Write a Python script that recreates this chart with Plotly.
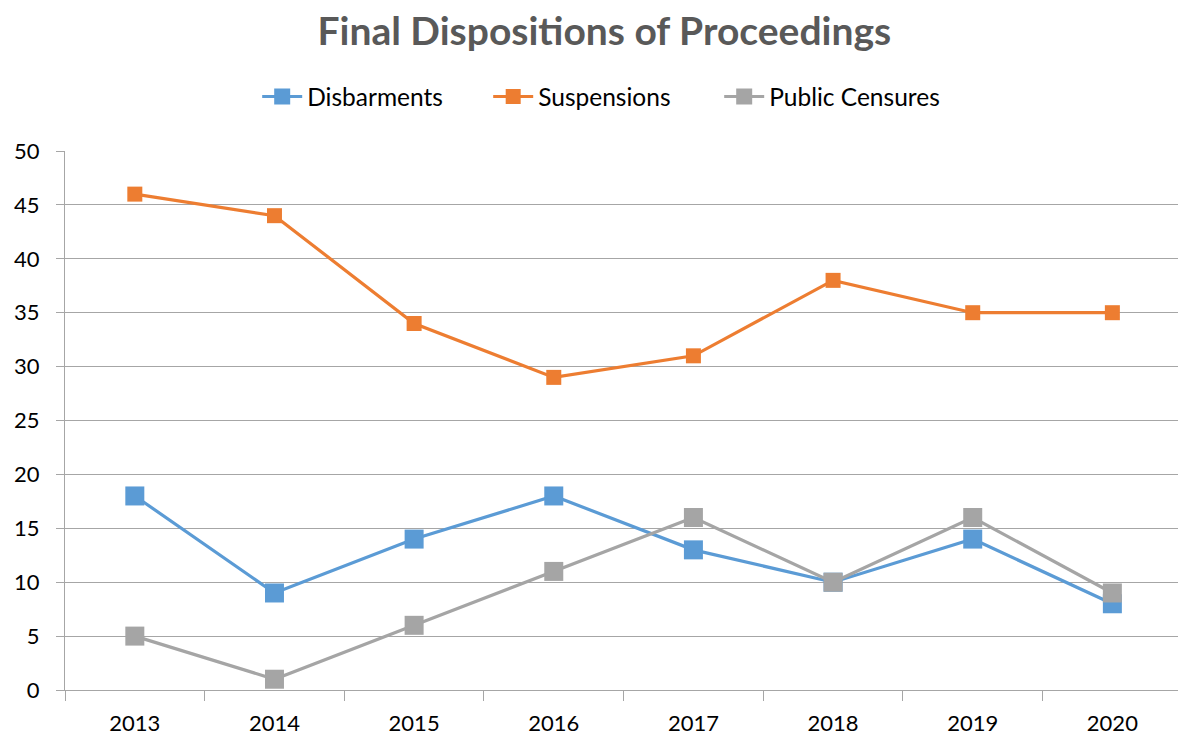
import plotly.graph_objects as go

years = ["2013", "2014", "2015", "2016", "2017", "2018", "2019", "2020"]
disbarments = [18, 9, 14, 18, 13, 10, 14, 8]
suspensions = [46, 44, 34, 29, 31, 38, 35, 35]
public_censures = [5, 1, 6, 11, 16, 10, 16, 9]

series = [
    ("Disbarments", disbarments, "#5B9BD5", 19),
    ("Suspensions", suspensions, "#ED7D31", 15),
    ("Public Censures", public_censures, "#A5A5A5", 19),
]

fig = go.Figure()
for name, vals, color, msize in series:
    fig.add_trace(go.Scatter(
        x=years, y=vals, name=name, mode="lines+markers",
        line=dict(color=color, width=3.2),
        marker=dict(symbol="square", size=msize, color=color),
    ))

FONT = "Lato, Open Sans, sans-serif"
fig.update_layout(
    width=1178, height=738,
    paper_bgcolor="white", plot_bgcolor="white",
    margin=dict(l=65, r=0, t=151, b=48, autoexpand=False),
    font=dict(family=FONT, color="#000000", size=22),
    title=dict(text="<b>Final Dispositions of Proceedings</b>", x=0.513, xanchor="center",
               y=0.958, yanchor="middle",
               font=dict(size=39, color="#595959", family=FONT)),
    legend=dict(orientation="h", x=0.484, xanchor="center", y=1.101, yanchor="middle",
                font=dict(size=24.5, color="#000000", family=FONT), itemwidth=40,
                entrywidth=176, entrywidthmode="pixels", tracegroupgap=0),
    showlegend=True,
)
fig.update_xaxes(
    type="category", tickson="boundaries", ticks="outside", ticklen=10,
    tickcolor="#A6A6A6", showline=True, linecolor="#A6A6A6", linewidth=1,
    showgrid=False, range=[-0.5, 7.47], tickfont=dict(size=22, family=FONT),
    ticklabelstandoff=14, automargin=False,
)
fig.update_yaxes(
    range=[0, 50], dtick=5, showgrid=True, gridcolor="#A6A6A6", gridwidth=1,
    ticks="outside", ticklen=8, tickcolor="#A6A6A6",
    showline=True, linecolor="#A6A6A6", linewidth=1, zeroline=False,
    tickfont=dict(size=22, family=FONT), ticklabelstandoff=12, automargin=False,
)

fig.write_html("out.html", config={"displayModeBar": False},
               post_script="document.body.style.margin='0';")
